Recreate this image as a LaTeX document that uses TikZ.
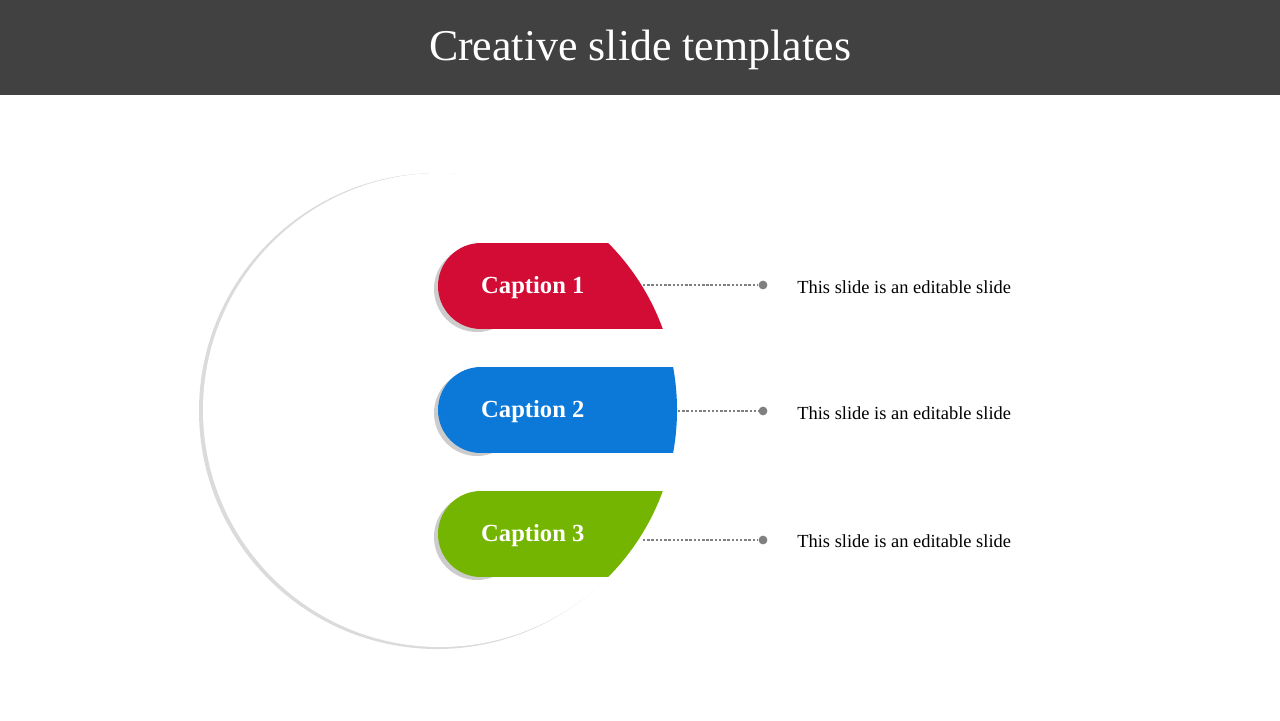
\documentclass[tikz,border=0pt]{standalone}
\usepackage{fontspec}
\setmainfont{Liberation Serif}
\usetikzlibrary{positioning,shadows}
\definecolor{headgray}{HTML}{414141}
\definecolor{capred}{HTML}{D20C34}
\definecolor{capblue}{HTML}{0C78D8}
\definecolor{capgreen}{HTML}{74B501}
\definecolor{dotgray}{HTML}{808080}
\tikzset{
  captext/.style={text=white,font=\bfseries\fontsize{14}{15}\selectfont,anchor=west},
  desctext/.style={font=\fontsize{10.5}{12}\selectfont,anchor=west,inner sep=0pt},
  enddot/.style={circle,fill=dotgray,minimum size=5pt,inner sep=0pt},
  dotline/.style={dotgray,line width=1.4pt,dash pattern=on 1.4pt off 1pt}
}
\begin{document}
\begin{tikzpicture}[x=0.02cm,y=-0.02cm]
\useasboundingbox (0,0) rectangle (1280,720);
\fill [headgray] (0,0) rectangle (1280,95);
\node [text=white,font=\fontsize{25}{28}\selectfont] (title) at (640,50) {Creative slide templates};
% big circle with soft shadow
\fill [black!14] (437,411) circle (238);
\fill [white] (440,410) circle (237);
% bands
\begin{scope}
\clip (440,410) circle (237);
\foreach \y/\c in {286/capred,410/capblue,534/capgreen}{
  \fill [black!20] (477,\y+3) circle (43);
  \fill [\c] (481,\y) circle (43);
  \fill [\c] (481,\y-43) rectangle (700,\y+43);
}
\end{scope}
\node [captext] (cap1) at (475,288) {Caption 1};
\node [captext] (cap2) at (475,412) {Caption 2};
\node [captext] (cap3) at (475,536) {Caption 3};
% connectors
\coordinate (e1) at (643,285);
\coordinate (e2) at (678,411);
\coordinate (e3) at (643,540);
\node [enddot] (d1) at (763,285) {};
\node [enddot] (d2) at (763,411) {};
\node [enddot] (d3) at (763,540) {};
\draw [dotline] (e1) -- (d1);
\draw [dotline] (e2) -- (d2);
\draw [dotline] (e3) -- (d3);
\node [desctext] (t1) at (797,287) {This slide is an editable slide};
\node [desctext] (t2) at (797,413) {This slide is an editable slide};
\node [desctext] (t3) at (797,541) {This slide is an editable slide};
\end{tikzpicture}
\end{document}
